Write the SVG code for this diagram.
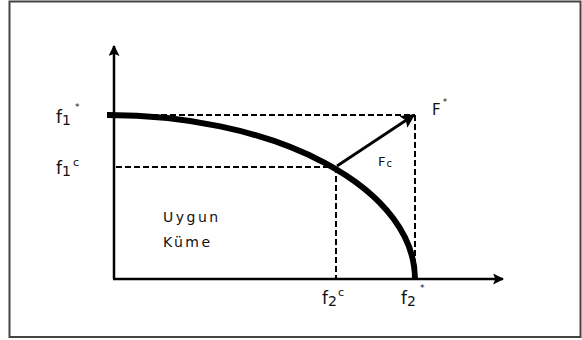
<svg xmlns="http://www.w3.org/2000/svg" width="582" height="340" viewBox="0 0 582 340">
<style>
.lbl{font-family:"DejaVu Sans","Liberation Sans",sans-serif;fill:#111}
.dash{stroke:#000;stroke-width:2;stroke-dasharray:6 3;fill:none}
.axis{stroke:#000;stroke-width:2.5;fill:none}
</style>
<defs>
<marker id="ah" viewBox="0 0 10 10" refX="9" refY="5" markerWidth="4.4" markerHeight="4.4" orient="auto" markerUnits="strokeWidth">
<path d="M0,0 L10,5 L0,10 L2,5 z" fill="#000"/>
</marker>
<marker id="ah2" viewBox="0 0 10 10" refX="9" refY="5" markerWidth="5" markerHeight="5" orient="auto" markerUnits="strokeWidth">
<path d="M0,0 L10,5 L0,10 L2,5 z" fill="#000"/>
</marker>
</defs>
<rect x="0" y="0" width="582" height="340" fill="#fff"/>
<rect id="frame" x="9.5" y="1.5" width="571" height="335.5" fill="none" stroke="#444" stroke-width="2"/>
<g id="connectors">
<line class="axis" x1="114" y1="279" x2="114" y2="46" marker-end="url(#ah)"/>
<line class="axis" x1="113" y1="279" x2="503" y2="279" marker-end="url(#ah)"/>
<line class="dash" x1="116" y1="115" x2="415" y2="115"/>
<line class="dash" x1="415" y1="115" x2="415" y2="279"/>
<line class="dash" x1="116" y1="167" x2="336" y2="167"/>
<line class="dash" x1="336" y1="167" x2="336" y2="279"/>
<path d="M107,115 A307,164 0 0 1 415,279" fill="none" stroke="#000" stroke-width="6"/>
<line x1="337" y1="166" x2="414" y2="115" stroke="#000" stroke-width="2.8" marker-end="url(#ah2)"/>
</g>
<g id="labels">
<text class="lbl" x="56" y="123" font-size="17">f<tspan font-size="14" dy="2">1</tspan><tspan font-size="9" dx="4" dy="-15">*</tspan></text>
<text class="lbl" x="56" y="174" font-size="17">f<tspan font-size="14" dy="2">1</tspan><tspan font-size="11" dx="2" dy="-10">c</tspan></text>
<text class="lbl" x="322" y="304" font-size="17">f<tspan font-size="14" dy="2">2</tspan><tspan font-size="11" dx="1" dy="-10">c</tspan></text>
<text class="lbl" x="401" y="304" font-size="17">f<tspan font-size="14" dy="2">2</tspan><tspan font-size="9" dx="4" dy="-15">*</tspan></text>
<text class="lbl" x="432" y="115" font-size="15">F<tspan font-size="9" dx="2" dy="-10">*</tspan></text>
<text class="lbl" x="378" y="166" font-size="13">F<tspan font-size="10" dx="1" dy="1">c</tspan></text>
<text class="lbl" x="163" y="222" font-size="14" letter-spacing="2.5">Uygun</text>
<text class="lbl" x="163" y="247" font-size="14" letter-spacing="2.5">Küme</text>
</g>
</svg>
